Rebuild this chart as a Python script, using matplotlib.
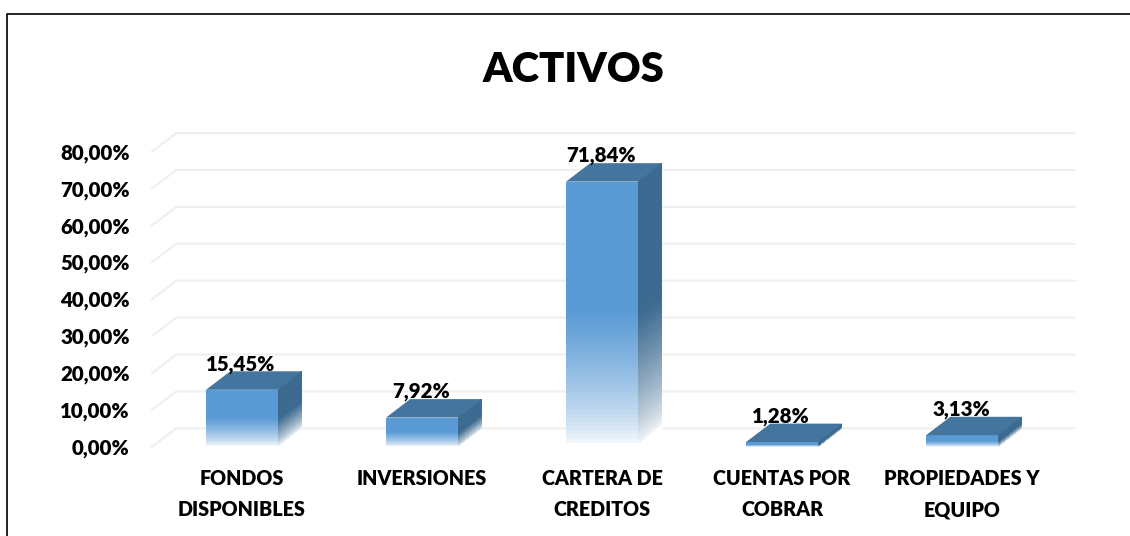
import matplotlib
matplotlib.use('Agg')
import matplotlib.pyplot as plt
from matplotlib.lines import Line2D
from matplotlib.colors import to_rgb
import numpy as np

plt.rcParams['font.family'] = ['Lato', 'DejaVu Sans']

categories = ['FONDOS\nDISPONIBLES', 'INVERSIONES', 'CARTERA DE\nCREDITOS', 'CUENTAS POR\nCOBRAR', 'PROPIEDADES Y\nEQUIPO']
values = [15.45, 7.92, 71.84, 1.28, 3.13]
value_labels = ['15,45%', '7,92%', '71,84%', '1,28%', '3,13%']
y_ticks = [0, 10, 20, 30, 40, 50, 60, 70, 80]
y_tick_labels = ['0,00%', '10,00%', '20,00%', '30,00%', '40,00%', '50,00%', '60,00%', '70,00%', '80,00%']

W, H = 1130, 536
# depth of the fake 3d, in data units
DX = 0.135
DY = 5.0
BAR_W = 0.4


def fade_colors(color, n):
    # solid on the top half, fades to white at the base
    c = np.array(to_rgb(color))
    t = np.linspace(0, 1, n)
    k = np.clip(t / 0.5, 0, 1) ** 0.7
    return np.outer(1 - k, [1, 1, 1]) + np.outer(k, c)


fig = plt.figure(figsize=(W / 100, H / 100), dpi=100)
ax = fig.add_axes([152 / W, (H - 446.8) / H, 900 / W, 295.3 / H])
ax.set_xlim(-0.5, 4.5)
ax.set_ylim(0, 80)
for s in ax.spines.values():
    s.set_visible(False)
ax.patch.set_visible(False)

# back wall lines
for t in y_ticks:
    ax.plot([-0.5, -0.5 + DX, 4.49 + DX], [t, t + DY, t + DY], color='#f0f0f0', lw=1.6,
            clip_on=False, zorder=1, solid_joinstyle='miter')

n = 64
for i, v in enumerate(values):
    x0 = i - BAR_W / 2
    x1 = i + BAR_W / 2
    ys = np.linspace(0, v, n + 1)
    # front
    X = np.column_stack([np.full(n + 1, x0), np.full(n + 1, x1)])
    Y = np.column_stack([ys, ys])
    ax.pcolormesh(X, Y, fade_colors('#5b9bd5', n).reshape(n, 1, 3), shading='flat', zorder=3, clip_on=False)
    # side
    X = np.column_stack([np.full(n + 1, x1), np.full(n + 1, x1 + DX)])
    Y = np.column_stack([ys, ys + DY])
    ax.pcolormesh(X, Y, fade_colors('#3c6a90', n).reshape(n, 1, 3), shading='flat', zorder=3, clip_on=False)
    # top
    ax.fill([x0, x1, x1 + DX, x0 + DX], [v, v, v + DY, v + DY], color='#44759f', lw=0, zorder=4, clip_on=False)
    ax.annotate(value_labels[i], (i - 0.005, v), xytext=(0, 18.5), textcoords='offset points', ha='center', va='center',
                fontsize=14.8, fontweight='heavy', color='black', zorder=5)

ax.set_xticks(range(len(categories)))
ax.set_xticklabels(categories, fontsize=14.2, fontweight='heavy', linespacing=1.75, va='top')
ax.set_yticks(y_ticks)
ax.set_yticklabels(y_tick_labels, fontsize=14.8, fontweight='heavy')
ax.tick_params(axis='both', length=0)
ax.tick_params(axis='x', pad=16)
ax.tick_params(axis='y', pad=16)

fig.text(573 / W, 1 - 70 / H, 'ACTIVOS', fontsize=30, fontweight='heavy', ha='center', va='center')

# chart frame, cut by the image on the right and at the bottom
fig.add_artist(Line2D([6.5 / W, 6.5 / W, 1], [0, 1 - 14 / H, 1 - 14 / H], color='black', lw=1.2))

fig.savefig('out.png', dpi=100)
